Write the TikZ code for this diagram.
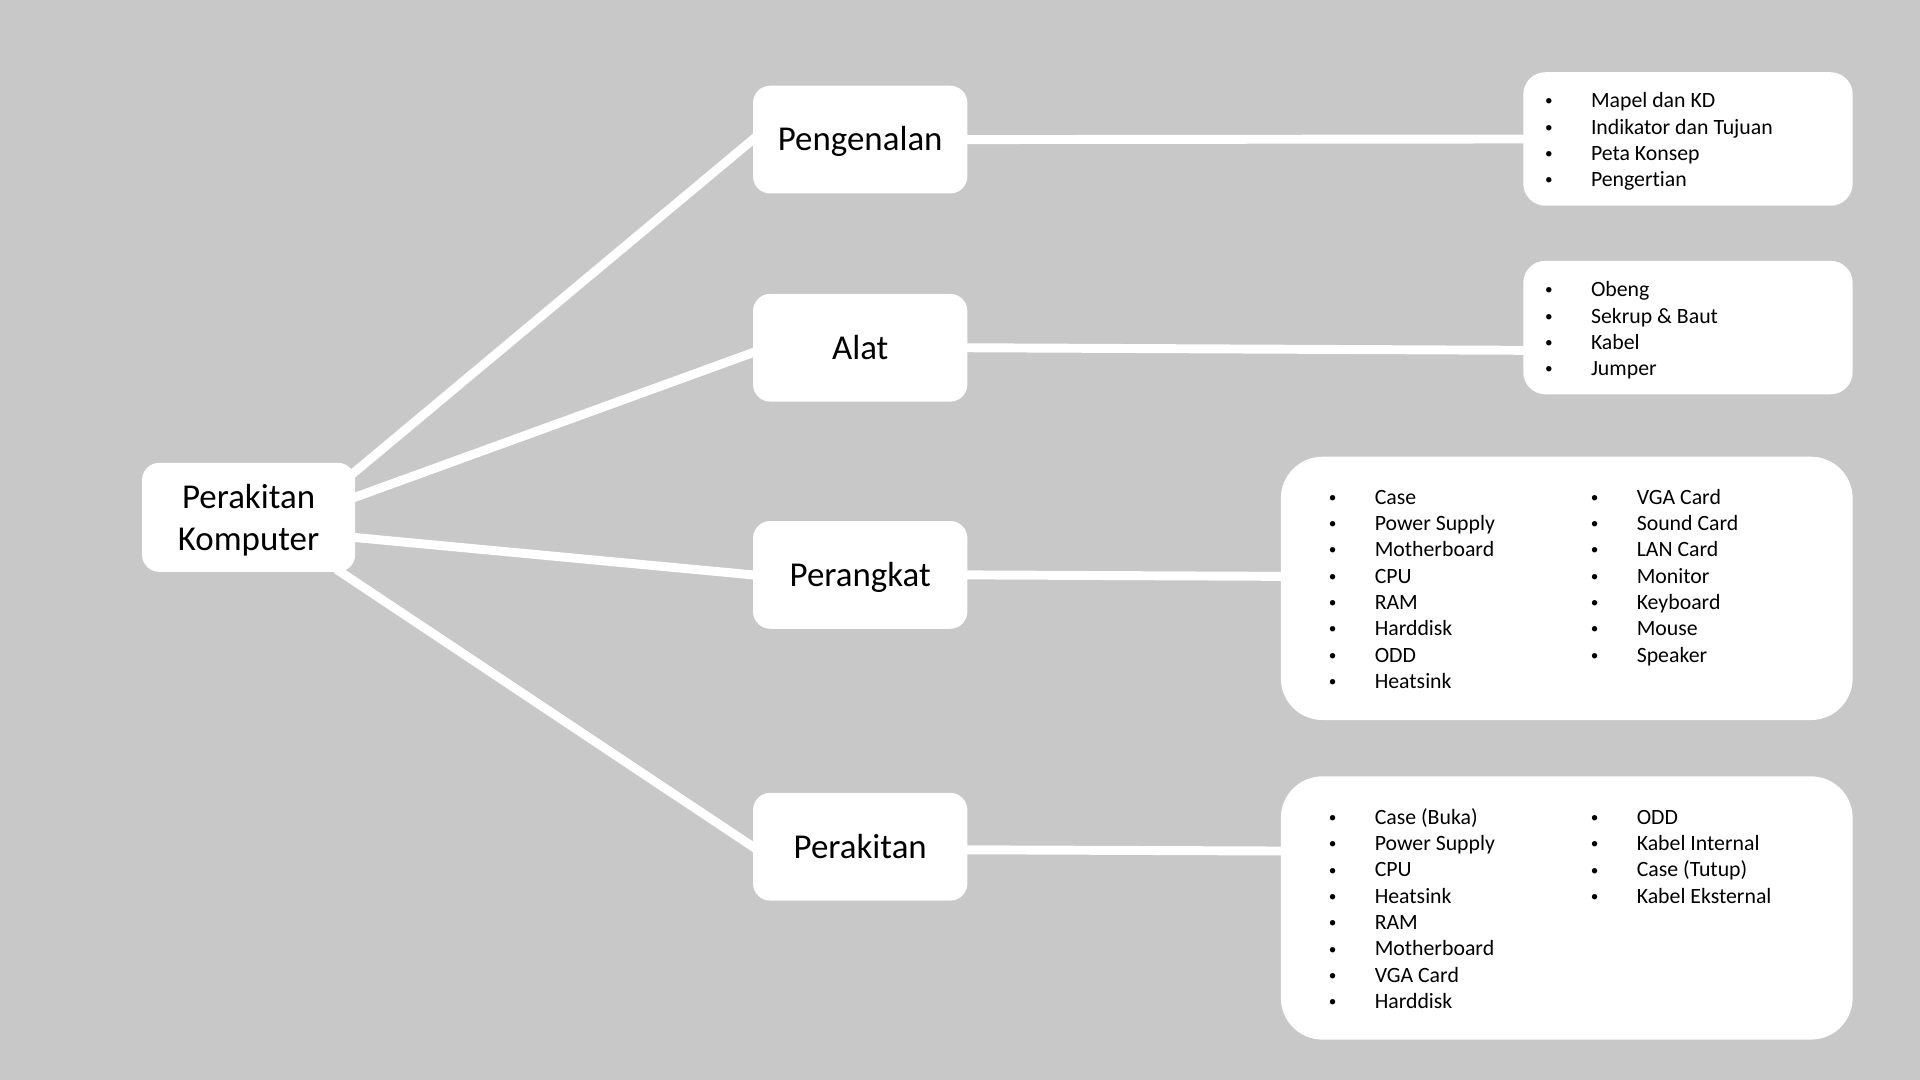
\documentclass[tikz,border=0pt]{standalone}
\usepackage{fontspec}
\usepackage{graphicx}
\setmainfont{Carlito}[Ligatures=NoCommon]
\definecolor{bggray}{RGB}{200,200,200}
\newcommand{\butir}{\makebox[37.5pt][l]{\raisebox{1.6pt}{\scalebox{0.7}{\textbullet}}}}
\tikzset{
  mainbox/.style={fill=white, rounded corners=14pt, inner sep=0pt,
    minimum width=175pt, minimum height=88pt,
    font=\fontsize{28.5}{35}\selectfont},
  topic/.style={mainbox, text height=18.4pt, text depth=0pt},
  rootbox/.style={mainbox, minimum width=174pt, minimum height=89pt, align=center,
    text depth=0pt},
  listbox/.style={fill=white, inner sep=0pt},
  listtext/.style={anchor=base west, inner sep=0pt, font=\fontsize{17.8}{21.5}\selectfont},
  link/.style={white, line width=7.3pt, shorten <=-4pt, shorten >=-4pt}
}

\begin{document}
\begin{tikzpicture}[x=1pt,y=-1pt]
\fill[bggray] (0,0) rectangle (1568,882);

  \node[rootbox] (root) at (203,422.5) {Perakitan\\Komputer};
  \node[topic] (pengenalan) at (702.5,114) {Pengenalan};
  \node[topic] (alat) at (702.5,284) {Alat};
  \node[topic] (perangkat) at (702.5,469.5) {Perangkat};
  \node[topic] (perakitan) at (702.5,691.5) {Perakitan};

  \node[listbox, rounded corners=18pt, minimum width=269pt, minimum height=109pt]
    (listpengenalan) at (1378.5,113.5) {};
  \node[listbox, rounded corners=18pt, minimum width=269pt, minimum height=109pt]
    (listalat) at (1378.5,267.5) {};
  \node[listbox, rounded corners=34pt, minimum width=467pt, minimum height=215pt]
    (listperangkat) at (1279.5,480.5) {};
  \node[listbox, rounded corners=34pt, minimum width=467pt, minimum height=215pt]
    (listperakitan) at (1279.5,741.5) {};

  \draw[link] ([yshift=37.5pt]root.east) -- (pengenalan.west);
  \draw[link] ([yshift=16.5pt]root.east) -- ([yshift=-4pt]alat.west);
  \draw[link] ([yshift=-16.5pt]root.east) -- (perangkat.west);
  \draw[link] ([xshift=-12pt]root.south east) -- (perakitan.west);
  \draw[link] (pengenalan.east) -- (listpengenalan.west);
  \draw[link] (alat.east) -- ([yshift=-18.6pt]listalat.west);
  \draw[link] (perangkat.east) -- ([yshift=9.8pt]listperangkat.west);
  \draw[link] ([yshift=-2.5pt]perakitan.east) -- ([yshift=46.5pt]listperakitan.west);

  \node[listtext] (itemspengenalan) at (1261.6,88) {\begin{tabular}[t]{@{}l@{}}
    \butir Mapel dan KD\\ \butir Indikator dan Tujuan\\
    \butir Peta Konsep\\ \butir Pengertian\end{tabular}};
  \node[listtext] (itemsalat) at (1261.6,242.3) {\begin{tabular}[t]{@{}l@{}}
    \butir Obeng\\ \butir Sekrup \& Baut\\ \butir Kabel\\ \butir Jumper\end{tabular}};
  \node[listtext] (itemsperangkata) at (1085,411.7) {\begin{tabular}[t]{@{}l@{}}
    \butir Case\\ \butir Power Supply\\ \butir Motherboard\\ \butir CPU\\
    \butir RAM\\ \butir Harddisk\\ \butir ODD\\ \butir Heatsink\end{tabular}};
  \node[listtext] (itemsperangkatb) at (1299,411.7) {\begin{tabular}[t]{@{}l@{}}
    \butir VGA Card\\ \butir Sound Card\\ \butir LAN Card\\ \butir Monitor\\
    \butir Keyboard\\ \butir Mouse\\ \butir Speaker\end{tabular}};
  \node[listtext] (itemsperakitana) at (1085,673.2) {\begin{tabular}[t]{@{}l@{}}
    \butir Case (Buka)\\ \butir Power Supply\\ \butir CPU\\ \butir Heatsink\\
    \butir RAM\\ \butir Motherboard\\ \butir VGA Card\\ \butir Harddisk\end{tabular}};
  \node[listtext] (itemsperakitanb) at (1299,673.2) {\begin{tabular}[t]{@{}l@{}}
    \butir ODD\\ \butir Kabel Internal\\ \butir Case (Tutup)\\
    \butir Kabel Eksternal\end{tabular}};
\end{tikzpicture}
\end{document}
